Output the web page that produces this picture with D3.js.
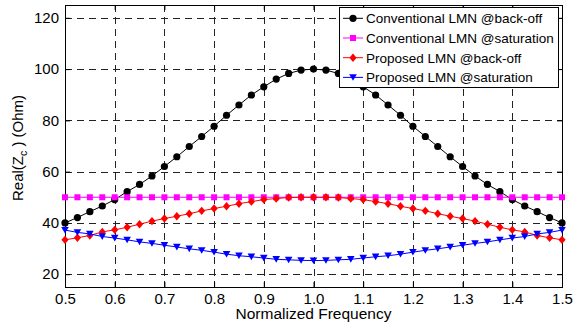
<!DOCTYPE html>
<html><head><meta charset="utf-8">
<script src="https://cdn.jsdelivr.net/npm/d3@7"></script>
<style>body{margin:0;background:#fff}svg{display:block}text{font-family:"Liberation Sans",Arial,sans-serif}</style>
</head><body><svg id="c" width="580" height="323"></svg>
<script>
const freq = d3.range(41).map(i => +(0.5 + i * 0.025).toFixed(3));
const convBackoffHalf = [40, 42.1, 44.4, 46.6, 49.1, 52.2, 55, 58.3, 62, 65.8, 69.8, 73.7, 77.7, 82, 86, 89.9, 93.1, 96.1, 98.3, 99.6, 100];
const propBackoffHalf = [33.4, 34.2, 35.1, 36.5, 37.3, 38.3, 39.5, 40.7, 41.7, 42.6, 43.6, 44.7, 45.6, 46.5, 47.5, 48.3, 49.1, 49.5, 49.9, 50, 50];
const propSatHalf = [37.2, 36.3, 35.7, 34.7, 34.1, 33.4, 32.6, 32, 31.3, 30.6, 29.9, 29.3, 28.6, 27.8, 27.2, 26.8, 26.3, 25.8, 25.6, 25.4, 25.3];
const mirror = h => h.concat(h.slice(0, -1).reverse());
const convBackoff = mirror(convBackoffHalf);
const convSat = freq.map(() => 50);
const propBackoff = mirror(propBackoffHalf);
const propSat = mirror(propSatHalf);
const seriesNames = ["Conventional LMN @back-off", "Conventional LMN @saturation", "Proposed LMN @back-off", "Proposed LMN @saturation"];
const seriesValues = [convBackoff, convSat, propBackoff, propSat];
const seriesColors = ["#000000", "#ff00ff", "#ff0000", "#0000ff"];
const seriesMarkers = ["circle", "square", "diamond", "triangle"];
const xTicks = [0.5, 0.6, 0.7, 0.8, 0.9, 1.0, 1.1, 1.2, 1.3, 1.4, 1.5];
const yTicks = [20, 40, 60, 80, 100, 120];

const svg = d3.select("#c");
const L = 65, R = 562, T = 5, B = 287;
const x = d3.scaleLinear().domain([0.5, 1.5]).range([L, R]);
const y = d3.scaleLinear().domain([15, 125]).range([B, T]);

// grid
const g = svg.append("g");
g.selectAll(".gx").data(xTicks.slice(1, -1)).join("line")
  .attr("x1", d => Math.round(x(d)) + 0.5).attr("x2", d => Math.round(x(d)) + 0.5)
  .attr("y1", T).attr("y2", B).attr("stroke", "#222").attr("stroke-dasharray", "7,5").attr("stroke-width", 1);
g.selectAll(".gy").data(yTicks).join("line")
  .attr("y1", d => Math.round(y(d)) + 0.5).attr("y2", d => Math.round(y(d)) + 0.5)
  .attr("x1", L).attr("x2", R).attr("stroke", "#222").attr("stroke-dasharray", "7,5").attr("stroke-width", 1);

// axes
const fmtX = d => d.toFixed(1);
const ax = svg.append("g").attr("transform", `translate(0,${B})`)
  .call(d3.axisBottom(x).tickValues(xTicks).tickFormat(fmtX).tickSizeInner(-5).tickSizeOuter(0));
ax.selectAll("text").attr("y", 6).attr("dy", "0.71em");
const axT = svg.append("g").attr("transform", `translate(0,${T})`)
  .call(d3.axisTop(x).tickValues(xTicks).tickFormat("").tickSizeInner(-5).tickSizeOuter(0));
const ay = svg.append("g").attr("transform", `translate(${L},0)`)
  .call(d3.axisLeft(y).tickValues(yTicks).tickSizeInner(-5).tickSizeOuter(0));
ay.selectAll("text").attr("x", -6);
const ayR = svg.append("g").attr("transform", `translate(${R},0)`)
  .call(d3.axisRight(y).tickValues(yTicks).tickFormat("").tickSizeInner(-5).tickSizeOuter(0));
[ax, axT, ay, ayR].forEach(a => {
  a.select(".domain").remove();
  a.selectAll("line").attr("stroke", "#000");
  a.selectAll("text").attr("font-size", 15).attr("fill", "#000").attr("font-family", "Liberation Sans, Arial, sans-serif");
});
svg.append("rect").attr("x", L + 0.5).attr("y", T + 0.5).attr("width", R - L).attr("height", B - T)
  .attr("fill", "none").attr("stroke", "#000").attr("stroke-width", 1);

// marker drawing
function marker(sel, type, color, s) {
  if (type === "circle") sel.append("circle").attr("r", 3.6 * s).attr("fill", color);
  else if (type === "square") sel.append("rect").attr("x", -3 * s).attr("y", -3 * s).attr("width", 6 * s).attr("height", 6 * s).attr("fill", color);
  else if (type === "diamond") sel.append("path").attr("d", `M0,${-4.2*s}L${3.6*s},0L0,${4.2*s}L${-3.6*s},0Z`).attr("fill", color);
  else sel.append("path").attr("d", `M${-3.8*s},${-3.2*s}L${3.8*s},${-3.2*s}L0,${3.4*s}Z`).attr("fill", color);
}

const line = d3.line().x((d, i) => x(freq[i])).y(d => y(d));
seriesValues.forEach((vals, k) => {
  const sg = svg.append("g");
  sg.append("path").attr("d", line(vals)).attr("fill", "none").attr("stroke", seriesColors[k]).attr("stroke-width", 1);
  vals.forEach((v, i) => {
    const m = sg.append("g").attr("transform", `translate(${x(freq[i])},${y(v)})`);
    marker(m, seriesMarkers[k], seriesColors[k], 1);
  });
});

// legend
const lg = svg.append("g");
lg.append("rect").attr("x", 339.5).attr("y", 7.5).attr("width", 219).attr("height", 80)
  .attr("fill", "#fff").attr("stroke", "#000").attr("stroke-width", 1);
seriesNames.forEach((n, k) => {
  const cy = 18.3 + k * 19.7;
  lg.append("line").attr("x1", 343).attr("x2", 363).attr("y1", cy).attr("y2", cy).attr("stroke", seriesColors[k]);
  marker(lg.append("g").attr("transform", `translate(353,${cy})`), seriesMarkers[k], seriesColors[k], 1);
  lg.append("text").attr("x", 366).attr("y", cy + 4.8).attr("font-size", 13.5).text(n);
});

// axis labels
svg.append("text").attr("x", (L + R) / 2).attr("y", 319).attr("text-anchor", "middle").attr("font-size", 15.5).text("Normalized Frequency");
const yl = svg.append("text").attr("transform", `translate(23,${148}) rotate(-90)`).attr("text-anchor", "middle").attr("font-size", 15);
yl.append("tspan").text("Real(Z");
yl.append("tspan").attr("font-size", 10.5).attr("dy", 4).text("c");
yl.append("tspan").attr("dy", -4).text(" ) (Ohm)");
</script></body></html>
